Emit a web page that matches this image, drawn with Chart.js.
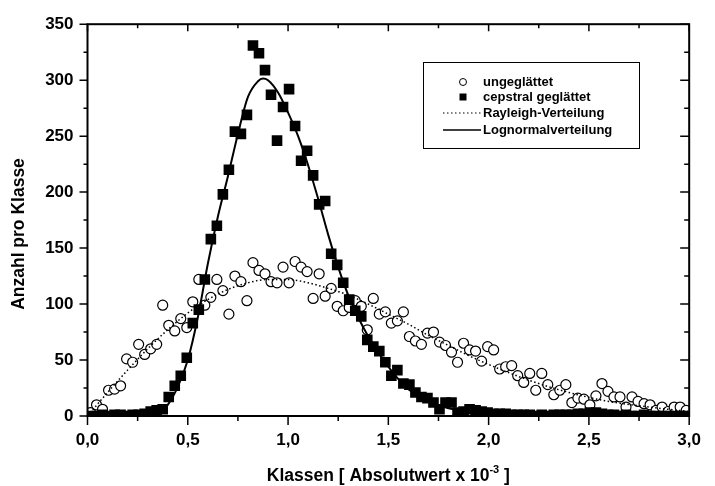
<!DOCTYPE html>
<html>
<head>
<meta charset="utf-8">
<script src="https://cdn.jsdelivr.net/npm/chart.js@4.4.1/dist/chart.umd.min.js"></script>
<style>
  body { margin: 0; background: #fff; }
  #wrap { width: 715px; height: 486px; }
</style>
</head>
<body>
<div id="wrap"><canvas id="verteilung" width="715" height="486"></canvas></div>
<script>
// Klassenmitten [Absolutwert x 10^-3]
const klassen = [
    0.015, 0.045, 0.075, 0.105, 0.135, 0.165, 0.195, 0.225, 0.255, 0.285,
    0.315, 0.345, 0.375, 0.405, 0.435, 0.465, 0.495, 0.525, 0.555, 0.585,
    0.615, 0.645, 0.675, 0.705, 0.735, 0.765, 0.795, 0.825, 0.855, 0.885,
    0.915, 0.945, 0.975, 1.005, 1.035, 1.065, 1.095, 1.125, 1.155, 1.185,
    1.215, 1.245, 1.275, 1.305, 1.335, 1.365, 1.395, 1.425, 1.455, 1.485,
    1.515, 1.545, 1.575, 1.605, 1.635, 1.665, 1.695, 1.725, 1.755, 1.785,
    1.815, 1.845, 1.875, 1.905, 1.935, 1.965, 1.995, 2.025, 2.055, 2.085,
    2.115, 2.145, 2.175, 2.205, 2.235, 2.265, 2.295, 2.325, 2.355, 2.385,
    2.415, 2.445, 2.475, 2.505, 2.535, 2.565, 2.595, 2.625, 2.655, 2.685,
    2.715, 2.745, 2.775, 2.805, 2.835, 2.865, 2.895, 2.925, 2.955, 2.985
];

// Anzahl pro Klasse, ungeglaettet (offene Kreise)
const ungeglaettet = [
    3, 10, 6, 23, 24, 27, 51, 48, 64, 55,
    60, 64, 99, 81, 76, 87, 79, 102, 122, 99,
    106, 122, 112, 91, 125, 120, 103, 137, 130, 127,
    120, 119, 133, 119, 138, 133, 129, 105, 127, 107,
    114, 98, 94, 97, 103, 98, 77, 105, 91, 93,
    83, 85, 93, 71, 67, 64, 74, 75, 66, 63,
    57, 48, 65, 59, 58, 49, 62, 59, 42, 44,
    45, 36, 30, 38, 23, 38, 28, 19, 23, 28,
    12, 16, 15, 10, 18, 29, 22, 17, 17, 8,
    17, 13, 11, 10, 5, 8, 4, 8, 8, 5
];

// Anzahl pro Klasse, cepstral geglaettet (gefuellte Quadrate)
const cepstral = [
    0, 0, 1, 0, 1, 1, 0, 1, 1, 2,
    4, 5, 6, 17, 27, 36, 52, 83, 95, 122,
    158, 170, 198, 220, 254, 252, 269, 331, 324, 309,
    287, 246, 276, 292, 259, 228, 237, 215, 189, 192,
    145, 135, 119, 104, 94, 89, 68, 62, 58, 48,
    36, 41, 29, 28, 21, 17, 16, 12, 6, 12,
    12, 3, 4, 6, 5, 4, 3, 2, 2, 2,
    1, 1, 1, 1, 0, 1, 0, 1, 1, 1,
    1, 2, 2, 3, 3, 2, 1, 1, 0, 1,
    0, 0, 1, 0, 0, 0, 0, 0, 0, 0
];

// Rayleigh-Verteilung (gepunktete Kurve)
const rayleighX = [0, 0.1, 0.2, 0.3, 0.4, 0.5, 0.6, 0.7, 0.8, 0.9, 1.0, 1.1, 1.2, 1.3,
    1.4, 1.5, 1.6, 1.7, 1.8, 1.9, 2.0, 2.2, 2.4, 2.6, 2.8, 3.0];
const rayleighY = [0, 21, 41, 60, 77, 92, 104, 113, 119, 122, 122, 119, 114, 108,
    100, 91, 82, 72, 63, 54, 46, 32, 21, 13, 8, 4];

// Lognormalverteilung (durchgezogene Kurve)
const lognormX = [0.25, 0.30, 0.35, 0.40, 0.45, 0.50, 0.55, 0.60, 0.65, 0.70, 0.75, 0.80,
    0.85, 0.875, 0.90, 0.95, 1.00, 1.05, 1.10, 1.15, 1.20, 1.25, 1.30, 1.35, 1.40,
    1.45, 1.50, 1.55, 1.60, 1.70, 1.80, 1.90, 2.00, 2.20, 2.50, 3.00];
const lognormY = [0, 0, 1.5, 10, 26, 50, 88, 136, 178, 214, 252, 285,
    299, 301.5, 300, 289, 271, 250, 224, 194, 162, 133, 108, 88, 71,
    57, 44, 33, 24, 13, 7, 4, 2.5, 1, 0.3, 0];

// Achsenteilung
const xTicks = [0, 0.5, 1.0, 1.5, 2.0, 2.5, 3.0];
const xMinorTicks = [0.25, 0.75, 1.25, 1.75, 2.25, 2.75];
const yTicks = [0, 50, 100, 150, 200, 250, 300, 350];
const yMinorTicks = [25, 75, 125, 175, 225, 275, 325];

const legendLabels = ['ungeglättet', 'cepstral geglättet', 'Rayleigh-Verteilung', 'Lognormalverteilung'];

const FONT = "'Liberation Sans', Arial, Helvetica, sans-serif";

function toPoints(xs, ys) {
    return xs.map((x, i) => ({ x: x, y: ys[i] }));
}

// Rahmen, Teilstriche, Achsentitel und Legende
const rahmenPlugin = {
    id: 'rahmen',
    afterDatasetsDraw(chart) {
        const { ctx, chartArea: a, scales } = chart;
        const xs = scales.x, ys = scales.y;
        ctx.save();
        ctx.strokeStyle = '#000';
        ctx.lineWidth = 2;
        ctx.strokeRect(a.left, a.top, a.right - a.left, a.bottom - a.top);

        ctx.lineWidth = 1.5;
        ctx.beginPath();
        const strich = (x1, y1, x2, y2) => { ctx.moveTo(x1, y1); ctx.lineTo(x2, y2); };
        xTicks.forEach(v => {
            const px = xs.getPixelForValue(v);
            strich(px, a.bottom, px, a.bottom + 9);
            strich(px, a.top, px, a.top + 7);
        });
        xMinorTicks.forEach(v => {
            const px = xs.getPixelForValue(v);
            strich(px, a.bottom, px, a.bottom + 5);
            strich(px, a.top, px, a.top + 4);
        });
        yTicks.forEach(v => {
            const py = ys.getPixelForValue(v);
            strich(a.left - 8, py, a.left, py);
            strich(a.right, py, a.right - 9, py);
        });
        yMinorTicks.forEach(v => {
            const py = ys.getPixelForValue(v);
            strich(a.left - 4, py, a.left, py);
            strich(a.right, py, a.right - 5, py);
        });
        ctx.stroke();
        ctx.restore();
    },
    afterDraw(chart) {
        const { ctx, chartArea: a } = chart;
        const ds = chart.data.datasets;
        ctx.save();
        ctx.fillStyle = '#000';

        // x-Achsentitel mit Exponent
        const teil1 = 'Klassen [ Absolutwert x 10';
        const hoch = '-3';
        const teil2 = ' ]';
        ctx.font = 'bold 17.5px ' + FONT;
        const w1 = ctx.measureText(teil1).width;
        const w3 = ctx.measureText(teil2).width;
        ctx.font = 'bold 11px ' + FONT;
        const w2 = ctx.measureText(hoch).width;
        let x0 = (a.left + a.right) / 2 - (w1 + w2 + w3) / 2;
        ctx.textBaseline = 'alphabetic';
        ctx.textAlign = 'left';
        ctx.font = 'bold 17.5px ' + FONT;
        ctx.fillText(teil1, x0, 481);
        ctx.font = 'bold 11px ' + FONT;
        ctx.fillText(hoch, x0 + w1, 473);
        ctx.font = 'bold 17.5px ' + FONT;
        ctx.fillText(teil2, x0 + w1 + w2, 481);

        // y-Achsentitel
        ctx.save();
        ctx.translate(19, 234);
        ctx.rotate(-Math.PI / 2);
        ctx.textAlign = 'center';
        ctx.textBaseline = 'middle';
        ctx.fillText('Anzahl pro Klasse', 0, 0);
        ctx.restore();

        // Legende
        ctx.lineWidth = 1;
        ctx.strokeStyle = '#000';
        ctx.fillStyle = '#fff';
        ctx.fillRect(423.5, 62.5, 216, 86);
        ctx.strokeRect(423.5, 62.5, 216, 86);

        const zeilen = [82, 97, 113, 130];
        const symX = 463;
        ctx.font = 'bold 13px ' + FONT;
        ctx.textAlign = 'left';
        ctx.textBaseline = 'middle';
        legendLabels.forEach((txt, i) => {
            const y = zeilen[i];
            const d = ds[i];
            ctx.save();
            if (i === 0) {
                ctx.beginPath();
                ctx.arc(symX, y, 3.5, 0, Math.PI * 2);
                ctx.fillStyle = d.backgroundColor;
                ctx.fill();
                ctx.strokeStyle = d.borderColor;
                ctx.lineWidth = 1;
                ctx.stroke();
            } else if (i === 1) {
                ctx.fillStyle = d.backgroundColor;
                ctx.fillRect(symX - 3.5, y - 3.5, 7, 7);
            } else {
                ctx.strokeStyle = d.borderColor;
                ctx.lineWidth = i === 2 ? 1.2 : 1.5;
                ctx.setLineDash(d.borderDash || []);
                ctx.beginPath();
                ctx.moveTo(443, y);
                ctx.lineTo(481, y);
                ctx.stroke();
            }
            ctx.restore();
            ctx.fillStyle = '#000';
            ctx.fillText(txt, 483, y);
        });
        ctx.restore();
    }
};

new Chart(document.getElementById('verteilung'), {
    type: 'scatter',
    data: {
        datasets: [{
            label: legendLabels[0],
            data: toPoints(klassen, ungeglaettet),
            pointStyle: 'circle',
            pointRadius: 5,
            borderWidth: 1.2,
            borderColor: '#000',
            backgroundColor: '#fff',
            clip: 0,
            order: 3
        }, {
            label: legendLabels[1],
            data: toPoints(klassen, cepstral),
            pointStyle: 'rect',
            pointRadius: 7.5,
            borderWidth: 0,
            borderColor: '#000',
            backgroundColor: '#000',
            clip: 0,
            order: 2
        }, {
            label: legendLabels[2],
            data: toPoints(rayleighX, rayleighY),
            showLine: true,
            pointRadius: 0,
            borderColor: '#000',
            backgroundColor: '#000',
            borderWidth: 1.5,
            borderDash: [1.5, 2.5],
            cubicInterpolationMode: 'monotone',
            clip: 0,
            order: 1
        }, {
            label: legendLabels[3],
            data: toPoints(lognormX, lognormY),
            showLine: true,
            pointRadius: 0,
            borderColor: '#000',
            backgroundColor: '#000',
            borderWidth: 2,
            cubicInterpolationMode: 'monotone',
            clip: 0,
            order: 0
        }]
    },
    options: {
        responsive: false,
        animation: false,
        devicePixelRatio: 1,
        layout: { padding: { top: 17, right: 12, left: 0, bottom: 0 } },
        scales: {
            x: {
                type: 'linear',
                min: 0,
                max: 3,
                afterBuildTicks: s => { s.ticks = xTicks.map(v => ({ value: v })); },
                afterFit: s => { s.height = 70; },
                grid: { display: false, drawTicks: false },
                border: { display: false },
                ticks: {
                    padding: 14,
                    color: '#000',
                    font: { family: FONT, size: 17, weight: 'bold' },
                    callback: v => v.toFixed(1).replace('.', ',')
                }
            },
            y: {
                type: 'linear',
                min: 0,
                max: 350,
                afterBuildTicks: s => { s.ticks = yTicks.map(v => ({ value: v })); },
                afterFit: s => { s.width = 87.5; },
                grid: { display: false, drawTicks: false },
                border: { display: false },
                ticks: {
                    padding: 14,
                    color: '#000',
                    font: { family: FONT, size: 17, weight: 'bold' },
                    callback: v => String(v)
                }
            }
        },
        plugins: {
            legend: { display: false },
            tooltip: { enabled: false },
            title: { display: false }
        }
    },
    plugins: [rahmenPlugin]
});
</script>
</body>
</html>
